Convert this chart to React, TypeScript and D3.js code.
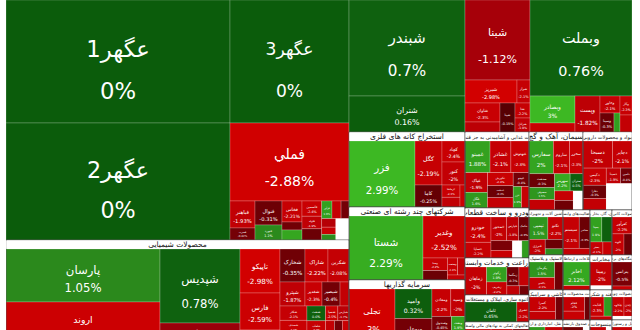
import React from "react";
import * as d3 from "d3";

type Leaf = [string, number, number | null];

// ---------- data: [symbol, market weight, change %] ----------
const goharLeft: Leaf[] = [["عگهر1", 27552, 0], ["عگهر2", 26208, 0]];
const goharRight: Leaf[] = [["عگهر3", 14637, 0], ["فملي", 9282, -2.88]];
const melliSmallA: Leaf[] = [["فباهنر", 675, -1.93], ["فسرب", 300, -0.42]];
const melliSmallB: Leaf[] = [["فنوال", 648, -0.31], ["فنورد", 405, 1.1]];
const melliSmallC: Leaf[] = [["فخاس", 420, -2.21], ["فپنتا", 160, -0.36], ["فسازان", 200, 2.05]];
const melliSmallD: Leaf[] = [["فاسمين", 300, -2.4], ["فلوله", 250, -1.9], ["فجر", 220, -0.3], ["فرآور", 180, 1.9], ["فالوم", 160, -2.1], ["فافزا", 140, -0.4], ["فجهان", 120, -1.6], ["فگستر", 100, -2.3], ["فاما", 80, 1.2], ["", 283, null]];

const chemCol1: Leaf[] = [["پارسان", 8929, 1.05], ["اروند", 7245, -2.61]];
const chemCol2: Leaf[] = [["شپدیس", 6476, 0.78], ["شیراز", 1925, -0.9]];
const chemCol3: Leaf[] = [["تاپیکو", 1925, -2.98], ["فارس", 1619, -2.59], ["شفن", 656, -1.5]];
const chemRow1: Leaf[] = [["شخارک", 902, -0.35], ["شاراک", 830, -2.22], ["شکربن", 759, -2.08]];
const chemRow2: Leaf[] = [["شپترو", 656, -1.87], ["شغدير", 447, -2.3], ["شبصیر", 473, -0.4], ["شسینا", 236, -2.0]];
const chemRow3: Leaf[] = [["شکلر", 420, -2.1], ["شصدف", 380, -2.4], ["شگویا", 350, -1.8], ["شنفت", 300, 0.6], ["شلعاب", 260, -2.2], ["شفارس", 230, -0.3], ["شسپا", 200, -2.5], ["شپارس", 180, -1.7], ["شرنگی", 160, -2.0], ["شدوص", 140, -0.4], ["شجم", 120, -2.3], ["شوینده", 100, -1.5], ["شکام", 60, 1.6], ["شیران", 44, -2.0]];

const refineA: Leaf[] = [["شبندر", 11136, 0.7], ["شتران", 4176, 0.16]];
const refineB: Leaf[] = [["شبنا", 5200, -1.12]];
const refineRow1: Leaf[] = [["شبریز", 1196, -2.98], ["شراز", 299, -2.1]];
const refineRow2a: Leaf[] = [["شاوان", 665, -2.3], ["شپاس", 350, -1.8]];
const refineRow2b: Leaf[] = [["شپنا", 435, -0.15]];
const refineRow2c: Leaf[] = [["نفتا", 225, -2.2], ["شرانل", 210, -1.9]];

const bankMain: Leaf[] = [["وبملت", 9792, 0.76]];
const bankC1: Leaf[] = [["وبصادر", 1215, 3.0], ["وتجارت", 405, -2.4]];
const bankC2: Leaf[] = [["وپست", 900, -1.82]];
const bankC3Top: Leaf[] = [["وخاور", 340, -2.1]];
const bankC3Bottom: Leaf[] = [["وسینا", 266, -0.3], ["ونوین", 114, 1.8]];
const bankC4: Leaf[] = [["وکار", 228, -2.3], ["وپاسار", 204, -2.0]];

const oreMain: Leaf[] = [["فزر", 4949, 2.99], ["کگل", 1350, -2.19], ["کاما", 675, -0.25]];
const oreCol: Leaf[] = [["کچاد", 549, -2.4], ["کنور", 601, -2.0]];
const oreSmall: Leaf[] = [["کرماشا", 250, -2.3], ["کمرجان", 200, -1.9], ["کطبس", 125, -2.5]];

const holdMain: Leaf[] = [["شستا", 5399, 2.29], ["وغدیر", 2011, -2.52]];
const holdSmall: Leaf[] = [["وصنا", 350, -2.2], ["رنیک", 260, -0.3], ["وصنعت", 200, -2.4], ["وتوکا", 143, -1.9], ["وآتوس", 100, -2.1]];

const invMain: Leaf[] = [["تجلی", 2989, -3]];
const invCol2: Leaf[] = [["وامید", 1265, 0.32], ["وبوعلی", 1139, -0.4]];
const invCol3: Leaf[] = [["ومعادن", 600, -2.2], ["وسپه", 450, -2.0], ["وصندوق", 350, -0.45], ["وبانک", 300, -2.3], ["ونفت", 250, 1.9], ["وگستر", 200, -2.1]];

const food: Leaf[] = [["غمینو", 900, 1.88], ["غشاذر", 750, -2.1], ["غبهنوش", 650, -2.3], ["غپاک", 500, -1.9], ["غگل", 400, 1.6], ["غکورش", 380, -2.4], ["غدشت", 350, -0.3], ["غمارگ", 300, -2.0], ["غپینو", 250, -0.4], ["غزر", 200, 1.9], ["غاذر", 184, -2.2]];
const auto: Leaf[] = [["خودرو", 800, -2.4], ["خساپا", 500, -2.2], ["خمحور", 450, -2.0], ["خپارس", 350, -1.8], ["خکمک", 300, -0.3], ["خزامیا", 250, -0.5], ["خرینگ", 200, -2.3], ["", 200, null], ["خگستر", 150, 1.7]];
const agri: Leaf[] = [["زماهان", 800, -2.0], ["زکوثر", 400, 1.9], ["زشریف", 350, -2.2], ["زمگسا", 300, -0.3], ["زفارس", 250, -2.1], ["زبینا", 150, -1.9], ["زگلدشت", 118, -0.4]];
const realEstate: Leaf[] = [["ثامان", 1400, 0.45], ["ثشرق", 328, -2.2]];
const finAux: Leaf[] = [["اطلس", 600, -2.1], ["اوان", 500, -1.9], ["امین", 372, -0.3]];

const cement: Leaf[] = [["سفارس", 900, 2.0], ["ساروم", 600, -2.1], ["سخزر", 500, -2.3], ["سدشت", 400, -0.3], ["سصوفی", 350, 1.5], ["سشمال", 300, -2.0], ["سهرمز", 300, 2.2], ["ستران", 250, 0.5], ["سکرد", 200, -2.2], ["سبجنو", 200, -0.35], ["", 212, null]];
const pharma: Leaf[] = [["دسبحا", 900, -2.0], ["دجابر", 600, -2.1], ["دکیمی", 450, -2.3], ["دفارا", 350, -0.3], ["دلقما", 300, -2.0], ["دسینا", 250, -1.9], ["دامین", 200, -0.4], ["", 772, null]];

const colA: Leaf[][] = [
  [["تپمپی", 500, 1.5], ["تکنو", 400, -2.2], ["فنرژی", 300, -2.0], ["بشهاب", 200, -0.3], ["لخزر", 130, 1.2]],
  [["پکرمان", 500, 1.5], ["پاکشو", 400, -2.1], ["پسهند", 290, -0.35]],
  [["کسرا", 500, -2.2], ["کساپا", 300, -2.0], ["کهمدا", 220, -0.4]],
  [["حکشتی", 400, 1.6], ["حپترو", 250, -2.1], ["حسینا", 200, -2.3]],
];
const colANames = ["ماشین آلات و تجهیزات", "لاستیک و پلاستیک", "کاشی و سرامیک", "حمل و نقل، انبارداری و ارتباطات"];
const colB: Leaf[][] = [
  [["سیستم", 600, -2.1], ["مفاخر", 400, -0.3], ["رتاپ", 215, -2.0]],
  [["اخابر", 800, 2.12], ["همراه", 145, -2.2]],
  [["فجام", 400, -2.0], ["فجوش", 250, -2.3], ["فتوسا", 160, -0.3]],
  [["البرز", 300, -0.35], ["بپاس", 200, -2.1], ["", 175, null]],
];
const colBNames = ["رایانه و فعالیت‌های وابسته به آن", "اطلاعات و ارتباطات", "ساخت محصولات فلزی", "بیمه و صندوق بازنشستگی"];
const colC: Leaf[][] = [
  [["بمپنا", 350, 1.9], ["تاپکیش", 300, 0.5], ["بفجر", 200, -2.1], ["بکام", 140, -2.3]],
  [["رمپنا", 650, -2.0], ["", 120, null]],
  [["قثابت", 350, -2.3], ["قشکر", 200, 1.7], ["قهکمت", 110, -2.0]],
  [["نبروج", 250, -2.1], ["نگین", 150, 1.5], ["", 150, null]],
];
const colCNames = ["عرضه برق، گاز، بخار و آب گرم", "مخابرات", "قند و شکر", "منسوجات"];
const colD: Leaf[][] = [
  [["کفرآور", 400, -2.2], ["کلوند", 300, -2.0], ["کسعدی", 200, -0.3]],
  [["بترانس", 600, -0.5], ["بالبر", 100, -2.1]],
  [["چکاوه", 300, -2.2], ["چدن", 200, -2.0], ["", 100, null]],
  [["گکیش", 300, -2.1], ["گدنا", 200, 1.6]],
];
const colDNames = ["سایر محصولات کانی غیرفلزی", "دستگاه‌های برقی", "محصولات چوبی", "هتل و رستوران"];

// ---------- hierarchy ----------
type TNode = { name?: string; dir?: string; header?: boolean; value?: number; chg?: number | null; children?: TNode[] };
const L = (t: Leaf): TNode => ({ name: t[0], value: t[1], chg: t[2] });
const G = (dir: string, kids: TNode[], name?: string): TNode => ({ dir, children: kids, name, header: !!name });
const colOf = (arr: Leaf[]) => G("v", arr.map(L));
const rowOf = (arr: Leaf[]) => G("h", arr.map(L));
const sq = (arr: Leaf[], name?: string) => G("s", arr.map(L), name);
const sectorCol = (groups: Leaf[][], names: string[]) => G("v", groups.map((g, i) => sq(g, names[i])));

function buildTree(): TNode {
  const A1 = G("h", [
    colOf(goharLeft),
    G("v", [L(goharRight[0]), L(goharRight[1]), G("h", [colOf(melliSmallA), colOf(melliSmallB), colOf(melliSmallC), sq(melliSmallD)])]),
  ]);
  const A2 = G("h", [colOf(chemCol1), colOf(chemCol2), colOf(chemCol3), G("v", [rowOf(chemRow1), rowOf(chemRow2), sq(chemRow3)])], "محصولات شیمیایی");
  const B1 = G("h", [
    colOf(refineA),
    G("v", [L(refineB[0]), rowOf(refineRow1), G("h", [colOf(refineRow2a), colOf(refineRow2b), colOf(refineRow2c)])]),
    G("v", [L(bankMain[0]), G("h", [colOf(bankC1), colOf(bankC2), G("v", [L(bankC3Top[0]), rowOf(bankC3Bottom)]), colOf(bankC4)])]),
  ]);
  const B2a = G("v", [
    G("h", [L(oreMain[0]), G("v", [G("h", [L(oreMain[1]), colOf(oreCol)]), G("h", [L(oreMain[2]), sq(oreSmall)])])], "استخراج کانه های فلزی"),
    G("h", [L(holdMain[0]), G("v", [L(holdMain[1]), sq(holdSmall)])], "شرکتهای چند رشته ای صنعتی"),
    G("h", [L(invMain[0]), colOf(invCol2), sq(invCol3)], "سرمایه گذاریها"),
  ]);
  const B2b = G("v", [
    sq(food, "محصولات غذایی و آشامیدنی به جز قند و شکر"),
    sq(auto, "خودرو و ساخت قطعات"),
    sq(agri, "زراعت و خدمات وابسته"),
    sq(realEstate, "انبوه سازی، املاک و مستغلات"),
    sq(finAux, "فعالیتهای کمکی به نهادهای مالی واسط"),
  ]);
  const B2c = G("v", [
    G("h", [sq(cement, "سیمان، آهک و گچ"), sq(pharma, "مواد و محصولات دارویی")]),
    G("h", [sectorCol(colA, colANames), sectorCol(colB, colBNames), sectorCol(colC, colCNames), sectorCol(colD, colDNames)]),
  ]);
  return G("h", [G("v", [A1, A2]), G("v", [B1, G("h", [B2a, B2b, B2c])])]);
}

function tile(node: any, x0: number, y0: number, x1: number, y1: number) {
  const dir = node.data.dir;
  if (dir === "h") d3.treemapDice(node, x0, y0, x1, y1);
  else if (dir === "v") d3.treemapSlice(node, x0, y0, x1, y1);
  else d3.treemapSquarify(node, x0, y0, x1, y1);
}

const negColor = d3.scaleLinear<string>().domain([-3, -2, -1, -0.3, 0]).range(["#d20000", "#c30004", "#a2000a", "#6c0005", "#420000"]).clamp(true);
const posColor = d3.scaleLinear<string>().domain([0, 0.8, 1.05, 2.3, 3]).range(["#0b5c0b", "#0f620f", "#2b891c", "#37ad21", "#3db823"]).clamp(true);
const colorOf = (c: number | null | undefined) => (c === null || c === undefined ? "#ffffff" : c < 0 ? negColor(c) : posColor(c));

const FONT = "'DejaVu Sans', 'Noto Sans', sans-serif";
const TW = 626, TH = 345, OX = 6;
const headerH = (n: any) => (n.data.header ? (n.value > 2000 ? 9 : 7) : 0);

export default function App() {
  const root = d3.hierarchy<TNode>(buildTree()).sum((d) => (d.children ? 0 : d.value ?? 0));
  const laid = d3.treemap<TNode>().size([TW, TH]).tile(tile as any).paddingTop(headerH)(root);
  const leaves = laid.leaves();
  const sectors = laid.descendants().filter((d) => d.data.header);

  return (
    <svg width={640} height={330} style={{ position: "absolute", left: 0, top: 0, background: "#fff" }}>
      <defs>
        <clipPath id="tmclip"><rect x={0} y={0} width={TW} height={TH} /></clipPath>
        {sectors.map((s, i) => (
          <clipPath key={"c" + i} id={"hc" + i}>
            <rect x={s.x0 + 0.5} y={s.y0} width={Math.max(0, s.x1 - s.x0 - 1)} height={headerH(s)} />
          </clipPath>
        ))}
      </defs>
      <g transform={`translate(${OX},0)`} clipPath="url(#tmclip)">
        {sectors.map((s, i) => (
          <rect key={"bg" + i} x={s.x0} y={s.y0} width={s.x1 - s.x0} height={s.y1 - s.y0} fill="#fff" />
        ))}
        {leaves.map((d, i) => {
          const w = d.x1 - d.x0, h = d.y1 - d.y0;
          const chg = d.data.chg;
          const name = d.data.name || "";
          const pct = chg === null || chg === undefined ? "" : `${chg}%`;
          let f = 2 + 0.125 * Math.sqrt(w * h);
          f = Math.min(f, (0.85 * w) / Math.max(name.length * 0.66, pct.length * 0.62, 1), 0.22 * h);
          const cx = d.x0 + w / 2;
          return (
            <g key={"l" + i}>
              <rect x={d.x0} y={d.y0} width={w} height={h} fill={colorOf(chg)}
                stroke={chg === null ? "none" : "rgba(255,255,255,0.35)"} strokeWidth={0.6} />
              {chg !== null && f >= 2.6 && (
                <g fill="#fff" fontFamily={FONT} fontSize={f} textAnchor="middle" dominantBaseline="central">
                  <text x={cx} y={d.y0 + h * 0.4}>{name}</text>
                  <text x={cx} y={d.y0 + h * 0.74}>{pct}</text>
                </g>
              )}
            </g>
          );
        })}
        {sectors.map((s, i) => {
          const hh = headerH(s);
          const w = s.x1 - s.x0;
          const name = s.data.name || "";
          const base = hh > 8 ? 7.5 : 5;
          const fs = Math.max(hh > 8 ? 5 : 4, Math.min(base, (w - 2) / (name.length * 0.45)));
          return (
            <g key={"h" + i}>
              <rect x={s.x0} y={s.y0} width={w} height={s.y1 - s.y0} fill="none" stroke="#3c3c3c" strokeWidth={0.7} />
              <rect x={s.x0 + 0.4} y={s.y0 + 0.4} width={w - 0.8} height={hh - 0.6} fill="#fff" />
              <g clipPath={`url(#hc${i})`}>
                <text x={s.x0 + w / 2} y={s.y0 + hh / 2 + 0.3} fontFamily={FONT} fontSize={fs}
                  fill="#111" textAnchor="middle" dominantBaseline="central">{name}</text>
              </g>
            </g>
          );
        })}
      </g>
    </svg>
  );
}
